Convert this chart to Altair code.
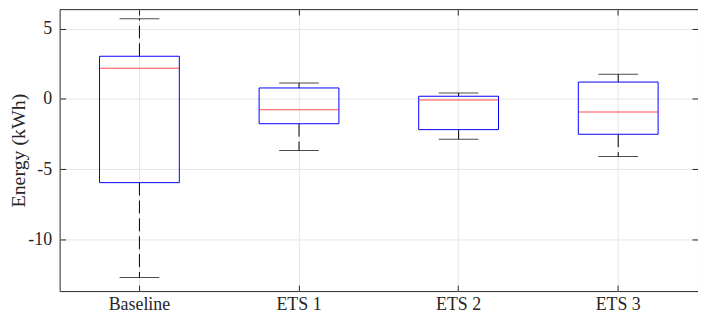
import altair as alt
import pandas as pd

categories = ["Baseline", "ETS 1", "ETS 2", "ETS 3"]
upper = [5.71, 1.13, 0.42, 1.75]
q3 = [3.04, 0.78, 0.19, 1.20]
median = [2.19, -0.78, -0.07, -0.94]
q1 = [-5.97, -1.77, -2.19, -2.52]
lower = [-12.74, -3.68, -2.88, -4.10]

y_ticks = [-10, -5, 0, 5]

df = pd.DataFrame({"cat": categories, "upper": upper, "q3": q3,
                   "median": median, "q1": q1, "lower": lower})

seg = pd.DataFrame({
    "cat": categories + categories,
    "y1": q3 + q1,
    "y2": upper + lower,
})
caps = pd.DataFrame({"cat": categories + categories, "v": upper + lower})

FONT = "Liberation Serif"
DARK = "#262626"
GRID = "#e6e6e6"
TICK = 6

xscale = alt.Scale(domain=categories, paddingInner=0, paddingOuter=0)
yscale = alt.Scale(domain=[-13.7, 6.4], nice=False, zero=False)

x_bottom = alt.Axis(title=None, orient="bottom", grid=True, gridColor=GRID,
                    domain=False, ticks=True, tickSize=TICK, offset=-TICK,
                    tickColor=DARK, labelPadding=5, labelFont=FONT,
                    labelFontSize=18, labelColor=DARK, labelAngle=0,
                    bandPosition=0.5)
y_left = alt.Axis(title="Energy (kWh)", orient="left", values=y_ticks,
                  labelExpr="toString(datum.value)",
                  grid=True, gridColor=GRID, domain=False, ticks=True,
                  tickSize=TICK, offset=-TICK, tickColor=DARK, labelPadding=8,
                  labelFont=FONT, labelFontSize=18, labelColor=DARK,
                  titleFont=FONT, titleFontSize=20, titleFontWeight="normal",
                  titleColor=DARK, titleX=-47.5, titleBaseline="middle",
                  titleAlign="center", titleAngle=270)
x_top = alt.Axis(title=None, orient="top", grid=False, domain=False,
                 labels=False, ticks=True, tickSize=TICK, offset=-TICK,
                 tickColor=DARK, bandPosition=0.5)
y_right = alt.Axis(title=None, orient="right", values=y_ticks, grid=False,
                   domain=False, labels=False, ticks=True, tickSize=TICK,
                   offset=-TICK, tickColor=DARK)

whisk = alt.Chart(seg).mark_rule(color="#000000", strokeWidth=1,
                                 strokeDash=[13, 5]).encode(
    x=alt.X("cat:N", scale=xscale, axis=x_bottom, sort=categories),
    y=alt.Y("y1:Q", scale=yscale, axis=y_left),
    y2="y2:Q",
)

cap = alt.Chart(caps).mark_tick(color="#000000", thickness=1, size=40).encode(
    x=alt.X("cat:N", scale=xscale, axis=x_top, sort=categories),
    y=alt.Y("v:Q", scale=yscale, axis=y_right),
)

box = alt.Chart(df).mark_bar(width=alt.RelativeBandSize(0.5), fillOpacity=0,
                             stroke="#0000ff", strokeWidth=1).encode(
    x=alt.X("cat:N", scale=xscale, axis=None, sort=categories),
    y=alt.Y("q1:Q", scale=yscale, axis=None),
    y2="q3:Q",
)

med = alt.Chart(df).mark_tick(color="#ff0000", thickness=1, size=80).encode(
    x=alt.X("cat:N", scale=xscale, axis=None, sort=categories),
    y=alt.Y("median:Q", scale=yscale, axis=None),
)

chart = alt.layer(whisk, cap, box, med).resolve_axis(
    x="independent", y="independent"
).properties(
    width=643, height=284,
    autosize=alt.AutoSizeParams(type="none"),
    padding={"left": 52, "top": 0, "right": 0, "bottom": 30},
).configure_view(stroke=DARK, strokeWidth=1)

chart.save("out.html", embed_options={"renderer": "svg", "actions": False})
